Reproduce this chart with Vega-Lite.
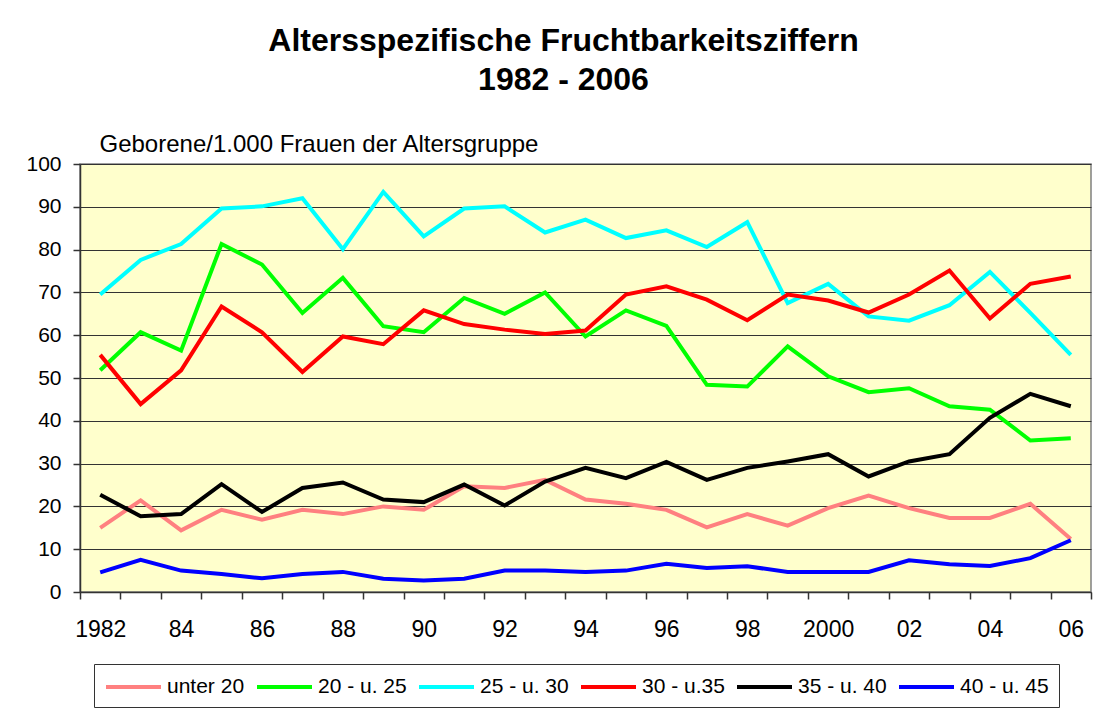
{
  "$schema": "https://vega.github.io/schema/vega-lite/v6.json",
  "width": 1011,
  "height": 428,
  "autosize": {"type": "none"},
  "padding": {"left": 80, "top": 164, "right": 8, "bottom": 123},
  "background": "white",
  "title": {
    "text": ["Altersspezifische Fruchtbarkeitsziffern", "1982 - 2006"],
    "font": "Liberation Sans",
    "fontSize": 32,
    "fontWeight": "bold",
    "color": "#000000",
    "lineHeight": 39,
    "anchor": "middle",
    "frame": "group",
    "dx": -22,
    "offset": 35
  },
  "data": {
    "values": [
      {"year": 1982, "group": "unter 20", "rate": 15.0},
      {"year": 1983, "group": "unter 20", "rate": 21.4},
      {"year": 1984, "group": "unter 20", "rate": 14.4},
      {"year": 1985, "group": "unter 20", "rate": 19.2},
      {"year": 1986, "group": "unter 20", "rate": 16.9},
      {"year": 1987, "group": "unter 20", "rate": 19.2},
      {"year": 1988, "group": "unter 20", "rate": 18.2},
      {"year": 1989, "group": "unter 20", "rate": 20.0},
      {"year": 1990, "group": "unter 20", "rate": 19.2},
      {"year": 1991, "group": "unter 20", "rate": 24.7},
      {"year": 1992, "group": "unter 20", "rate": 24.3},
      {"year": 1993, "group": "unter 20", "rate": 26.2},
      {"year": 1994, "group": "unter 20", "rate": 21.6},
      {"year": 1995, "group": "unter 20", "rate": 20.6},
      {"year": 1996, "group": "unter 20", "rate": 19.2},
      {"year": 1997, "group": "unter 20", "rate": 15.1},
      {"year": 1998, "group": "unter 20", "rate": 18.2},
      {"year": 1999, "group": "unter 20", "rate": 15.5},
      {"year": 2000, "group": "unter 20", "rate": 19.6},
      {"year": 2001, "group": "unter 20", "rate": 22.5},
      {"year": 2002, "group": "unter 20", "rate": 19.6},
      {"year": 2003, "group": "unter 20", "rate": 17.3},
      {"year": 2004, "group": "unter 20", "rate": 17.3},
      {"year": 2005, "group": "unter 20", "rate": 20.6},
      {"year": 2006, "group": "unter 20", "rate": 12.4},
      {"year": 1982, "group": "20 - u. 25", "rate": 51.8},
      {"year": 1983, "group": "20 - u. 25", "rate": 60.7},
      {"year": 1984, "group": "20 - u. 25", "rate": 56.4},
      {"year": 1985, "group": "20 - u. 25", "rate": 81.3},
      {"year": 1986, "group": "20 - u. 25", "rate": 76.5},
      {"year": 1987, "group": "20 - u. 25", "rate": 65.2},
      {"year": 1988, "group": "20 - u. 25", "rate": 73.4},
      {"year": 1989, "group": "20 - u. 25", "rate": 62.1},
      {"year": 1990, "group": "20 - u. 25", "rate": 60.7},
      {"year": 1991, "group": "20 - u. 25", "rate": 68.7},
      {"year": 1992, "group": "20 - u. 25", "rate": 65.0},
      {"year": 1993, "group": "20 - u. 25", "rate": 70.0},
      {"year": 1994, "group": "20 - u. 25", "rate": 59.7},
      {"year": 1995, "group": "20 - u. 25", "rate": 65.8},
      {"year": 1996, "group": "20 - u. 25", "rate": 62.2},
      {"year": 1997, "group": "20 - u. 25", "rate": 48.4},
      {"year": 1998, "group": "20 - u. 25", "rate": 48.0},
      {"year": 1999, "group": "20 - u. 25", "rate": 57.4},
      {"year": 2000, "group": "20 - u. 25", "rate": 50.4},
      {"year": 2001, "group": "20 - u. 25", "rate": 46.7},
      {"year": 2002, "group": "20 - u. 25", "rate": 47.6},
      {"year": 2003, "group": "20 - u. 25", "rate": 43.4},
      {"year": 2004, "group": "20 - u. 25", "rate": 42.6},
      {"year": 2005, "group": "20 - u. 25", "rate": 35.4},
      {"year": 2006, "group": "20 - u. 25", "rate": 35.9},
      {"year": 1982, "group": "25 - u. 30", "rate": 69.5},
      {"year": 1983, "group": "25 - u. 30", "rate": 77.6},
      {"year": 1984, "group": "25 - u. 30", "rate": 81.3},
      {"year": 1985, "group": "25 - u. 30", "rate": 89.6},
      {"year": 1986, "group": "25 - u. 30", "rate": 90.1},
      {"year": 1987, "group": "25 - u. 30", "rate": 92.0},
      {"year": 1988, "group": "25 - u. 30", "rate": 80.1},
      {"year": 1989, "group": "25 - u. 30", "rate": 93.5},
      {"year": 1990, "group": "25 - u. 30", "rate": 83.1},
      {"year": 1991, "group": "25 - u. 30", "rate": 89.6},
      {"year": 1992, "group": "25 - u. 30", "rate": 90.1},
      {"year": 1993, "group": "25 - u. 30", "rate": 84.0},
      {"year": 1994, "group": "25 - u. 30", "rate": 87.0},
      {"year": 1995, "group": "25 - u. 30", "rate": 82.7},
      {"year": 1996, "group": "25 - u. 30", "rate": 84.5},
      {"year": 1997, "group": "25 - u. 30", "rate": 80.6},
      {"year": 1998, "group": "25 - u. 30", "rate": 86.4},
      {"year": 1999, "group": "25 - u. 30", "rate": 67.5},
      {"year": 2000, "group": "25 - u. 30", "rate": 72.0},
      {"year": 2001, "group": "25 - u. 30", "rate": 64.4},
      {"year": 2002, "group": "25 - u. 30", "rate": 63.4},
      {"year": 2003, "group": "25 - u. 30", "rate": 67.0},
      {"year": 2004, "group": "25 - u. 30", "rate": 74.8},
      {"year": 2005, "group": "25 - u. 30", "rate": 65.2},
      {"year": 2006, "group": "25 - u. 30", "rate": 55.4},
      {"year": 1982, "group": "30 - u.35", "rate": 55.4},
      {"year": 1983, "group": "30 - u.35", "rate": 43.9},
      {"year": 1984, "group": "30 - u.35", "rate": 51.8},
      {"year": 1985, "group": "30 - u.35", "rate": 66.7},
      {"year": 1986, "group": "30 - u.35", "rate": 60.7},
      {"year": 1987, "group": "30 - u.35", "rate": 51.4},
      {"year": 1988, "group": "30 - u.35", "rate": 59.7},
      {"year": 1989, "group": "30 - u.35", "rate": 57.9},
      {"year": 1990, "group": "30 - u.35", "rate": 65.8},
      {"year": 1991, "group": "30 - u.35", "rate": 62.6},
      {"year": 1992, "group": "30 - u.35", "rate": 61.3},
      {"year": 1993, "group": "30 - u.35", "rate": 60.3},
      {"year": 1994, "group": "30 - u.35", "rate": 61.1},
      {"year": 1995, "group": "30 - u.35", "rate": 69.5},
      {"year": 1996, "group": "30 - u.35", "rate": 71.4},
      {"year": 1997, "group": "30 - u.35", "rate": 68.3},
      {"year": 1998, "group": "30 - u.35", "rate": 63.5},
      {"year": 1999, "group": "30 - u.35", "rate": 69.5},
      {"year": 2000, "group": "30 - u.35", "rate": 68.1},
      {"year": 2001, "group": "30 - u.35", "rate": 65.3},
      {"year": 2002, "group": "30 - u.35", "rate": 69.5},
      {"year": 2003, "group": "30 - u.35", "rate": 75.1},
      {"year": 2004, "group": "30 - u.35", "rate": 63.9},
      {"year": 2005, "group": "30 - u.35", "rate": 72.0},
      {"year": 2006, "group": "30 - u.35", "rate": 73.7},
      {"year": 1982, "group": "35 - u. 40", "rate": 22.7},
      {"year": 1983, "group": "35 - u. 40", "rate": 17.7},
      {"year": 1984, "group": "35 - u. 40", "rate": 18.2},
      {"year": 1985, "group": "35 - u. 40", "rate": 25.2},
      {"year": 1986, "group": "35 - u. 40", "rate": 18.7},
      {"year": 1987, "group": "35 - u. 40", "rate": 24.3},
      {"year": 1988, "group": "35 - u. 40", "rate": 25.6},
      {"year": 1989, "group": "35 - u. 40", "rate": 21.6},
      {"year": 1990, "group": "35 - u. 40", "rate": 21.0},
      {"year": 1991, "group": "35 - u. 40", "rate": 25.1},
      {"year": 1992, "group": "35 - u. 40", "rate": 20.2},
      {"year": 1993, "group": "35 - u. 40", "rate": 25.8},
      {"year": 1994, "group": "35 - u. 40", "rate": 29.0},
      {"year": 1995, "group": "35 - u. 40", "rate": 26.6},
      {"year": 1996, "group": "35 - u. 40", "rate": 30.4},
      {"year": 1997, "group": "35 - u. 40", "rate": 26.2},
      {"year": 1998, "group": "35 - u. 40", "rate": 29.0},
      {"year": 1999, "group": "35 - u. 40", "rate": 30.5},
      {"year": 2000, "group": "35 - u. 40", "rate": 32.2},
      {"year": 2001, "group": "35 - u. 40", "rate": 27.0},
      {"year": 2002, "group": "35 - u. 40", "rate": 30.5},
      {"year": 2003, "group": "35 - u. 40", "rate": 32.2},
      {"year": 2004, "group": "35 - u. 40", "rate": 40.7},
      {"year": 2005, "group": "35 - u. 40", "rate": 46.3},
      {"year": 2006, "group": "35 - u. 40", "rate": 43.4},
      {"year": 1982, "group": "40 - u. 45", "rate": 4.6},
      {"year": 1983, "group": "40 - u. 45", "rate": 7.5},
      {"year": 1984, "group": "40 - u. 45", "rate": 5.0},
      {"year": 1985, "group": "40 - u. 45", "rate": 4.2},
      {"year": 1986, "group": "40 - u. 45", "rate": 3.2},
      {"year": 1987, "group": "40 - u. 45", "rate": 4.2},
      {"year": 1988, "group": "40 - u. 45", "rate": 4.7},
      {"year": 1989, "group": "40 - u. 45", "rate": 3.1},
      {"year": 1990, "group": "40 - u. 45", "rate": 2.7},
      {"year": 1991, "group": "40 - u. 45", "rate": 3.1},
      {"year": 1992, "group": "40 - u. 45", "rate": 5.0},
      {"year": 1993, "group": "40 - u. 45", "rate": 5.0},
      {"year": 1994, "group": "40 - u. 45", "rate": 4.7},
      {"year": 1995, "group": "40 - u. 45", "rate": 5.0},
      {"year": 1996, "group": "40 - u. 45", "rate": 6.6},
      {"year": 1997, "group": "40 - u. 45", "rate": 5.6},
      {"year": 1998, "group": "40 - u. 45", "rate": 6.0},
      {"year": 1999, "group": "40 - u. 45", "rate": 4.7},
      {"year": 2000, "group": "40 - u. 45", "rate": 4.7},
      {"year": 2001, "group": "40 - u. 45", "rate": 4.7},
      {"year": 2002, "group": "40 - u. 45", "rate": 7.4},
      {"year": 2003, "group": "40 - u. 45", "rate": 6.5},
      {"year": 2004, "group": "40 - u. 45", "rate": 6.1},
      {"year": 2005, "group": "40 - u. 45", "rate": 7.9},
      {"year": 2006, "group": "40 - u. 45", "rate": 12.1}
    ]
  },
  "mark": {"type": "line", "strokeWidth": 4, "strokeJoin": "miter", "clip": false},
  "encoding": {
    "x": {
      "field": "year",
      "type": "ordinal",
      "bandPosition": 0.5,
      "scale": {"type": "band", "paddingInner": 0, "paddingOuter": 0},
      "axis": {
        "title": null,
        "tickBand": "extent",
        "grid": false,
        "domainColor": "#333333",
        "domainWidth": 1.5,
        "tickColor": "#333333",
        "tickWidth": 1.5,
        "tickSize": 7,
        "labelAngle": 0,
        "labelFont": "Liberation Sans",
        "labelFontSize": 23,
        "labelColor": "#000000",
        "labelPadding": 19,
        "labelOverlap": false,
        "labelBound": false,
        "labelExpr": "datum.value % 2 == 1 ? '' : ((datum.value == 1982 || datum.value == 2000) ? datum.label : slice(datum.label, 2))"
      }
    },
    "y": {
      "field": "rate",
      "type": "quantitative",
      "scale": {"domain": [0, 100], "nice": false, "zero": true},
      "axis": {
        "title": "Geborene/1.000 Frauen der Altersgruppe",
        "titleAngle": 0,
        "titleAlign": "left",
        "titleBaseline": "alphabetic",
        "titleX": 19,
        "titleY": -13,
        "titleFont": "Liberation Sans",
        "titleFontSize": 24,
        "titleFontWeight": "normal",
        "titleColor": "#000000",
        "values": [0, 10, 20, 30, 40, 50, 60, 70, 80, 90, 100],
        "grid": true,
        "gridColor": "#333333",
        "gridWidth": 1.2,
        "domainColor": "#333333",
        "domainWidth": 1.5,
        "tickColor": "#333333",
        "tickWidth": 1.5,
        "tickSize": 7,
        "labelFont": "Liberation Sans",
        "labelFontSize": 21,
        "labelColor": "#000000",
        "labelPadding": 12
      }
    },
    "color": {
      "field": "group",
      "type": "nominal",
      "sort": ["unter 20", "20 - u. 25", "25 - u. 30", "30 - u.35", "35 - u. 40", "40 - u. 45"],
      "scale": {
        "domain": ["unter 20", "20 - u. 25", "25 - u. 30", "30 - u.35", "35 - u. 40", "40 - u. 45"],
        "range": ["#FF8080", "#00FF00", "#00FFFF", "#FF0000", "#000000", "#0000FF"]
      },
      "legend": {
        "title": null,
        "orient": "none",
        "legendX": 14,
        "legendY": 500,
        "direction": "horizontal",
        "columns": 6,
        "symbolType": "M-1,0H4",
        "symbolSize": 484,
        "symbolStrokeWidth": 4,
        "labelFont": "Liberation Sans",
        "labelFontSize": 21,
        "labelColor": "#000000",
        "labelOffset": 37,
        "columnPadding": 4,
        "padding": 10,
        "strokeColor": "#333333",
        "fillColor": "#FFFFFF"
      }
    }
  },
  "config": {
    "view": {"fill": "#FFFFCC", "stroke": "#808080", "strokeWidth": 1.5}
  }
}
